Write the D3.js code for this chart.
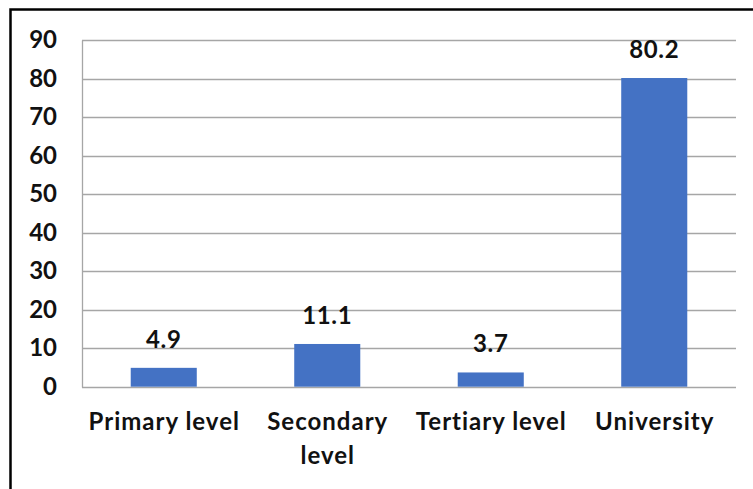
<!DOCTYPE html>
<html>
<head>
<meta charset="utf-8">
<script src="https://cdn.jsdelivr.net/npm/d3@7"></script>
<style>
  html, body { margin: 0; padding: 0; background: #fff; }
  svg { display: block; }
  text { font-family: Lato, "Open Sans", sans-serif; font-weight: bold; fill: #111; }
</style>
</head>
<body>
<svg id="chart" width="753" height="489"></svg>
<script>
// Share by education level (%)
const categories = ["Primary level", "Secondary level", "Tertiary level", "University"];
const values = [4.9, 11.1, 3.7, 80.2];
const yTicks = [0, 10, 20, 30, 40, 50, 60, 70, 80, 90];
// Category labels broken into lines
const categoryLines = [["Primary level"], ["Secondary", "level"], ["Tertiary level"], ["University"]];

const svg = d3.select("#chart");
const W = 753, H = 489;
const plot = { left: 82, right: 736, top: 40.3, bottom: 386.7 };

// Outer frame (runs off the right and bottom edges)
svg.append("rect")
  .attr("x", 10.5).attr("y", 9.5)
  .attr("width", W + 20).attr("height", H + 20)
  .attr("fill", "none").attr("stroke", "#000").attr("stroke-width", 2.5);

const x = d3.scaleBand().domain(categories).range([plot.left, plot.right]).paddingInner(0.596).paddingOuter(0.298);
const y = d3.scaleLinear().domain([0, 90]).range([plot.bottom, plot.top]);

// Gridlines
svg.append("g")
  .selectAll("line").data(yTicks).join("line")
  .attr("x1", plot.left).attr("x2", plot.right)
  .attr("y1", d => Math.round(y(d)) + 0.5).attr("y2", d => Math.round(y(d)) + 0.5)
  .attr("stroke", "#a6a6a6").attr("stroke-width", 1.3);

// Left axis line
svg.append("line")
  .attr("x1", plot.left + 0.5).attr("x2", plot.left + 0.5)
  .attr("y1", Math.round(y(90)) + 0.5).attr("y2", Math.round(y(0)) + 0.5)
  .attr("stroke", "#a6a6a6").attr("stroke-width", 1.3);

// Y axis labels
const yAxis = d3.axisLeft(y).tickValues(yTicks).tickSize(0).tickPadding(25);
const gy = svg.append("g").attr("transform", `translate(${plot.left},0)`).call(yAxis);
gy.select(".domain").remove();
gy.selectAll("text")
  .attr("font-family", "Lato, 'Open Sans', sans-serif")
  .attr("font-weight", "bold")
  .attr("font-size", 24)
  .attr("fill", "#111");

// Bars
svg.append("g")
  .selectAll("rect").data(values).join("rect")
  .attr("x", (d, i) => x(categories[i]))
  .attr("width", x.bandwidth())
  .attr("y", d => y(d))
  .attr("height", d => y(0) - y(d))
  .attr("fill", "#4472c4");

// Value labels
svg.append("g")
  .selectAll("text").data(values).join("text")
  .attr("x", (d, i) => x(categories[i]) + x.bandwidth() / 2)
  .attr("y", d => y(d) - 20)
  .attr("text-anchor", "middle")
  .attr("font-size", 24)
  .attr("letter-spacing", 0.6)
  .text(d => d.toFixed(1));

// Category labels
const gx = svg.append("g");
categoryLines.forEach((lines, i) => {
  const cx = x(categories[i]) + x.bandwidth() / 2 + 0.5;
  const t = gx.append("text")
    .attr("x", cx).attr("y", 430)
    .attr("text-anchor", "middle")
    .attr("font-size", 24)
    .attr("letter-spacing", 1);
  lines.forEach((ln, j) => {
    t.append("tspan").attr("x", cx).attr("dy", j === 0 ? 0 : 34).text(ln);
  });
});
</script>
</body>
</html>
